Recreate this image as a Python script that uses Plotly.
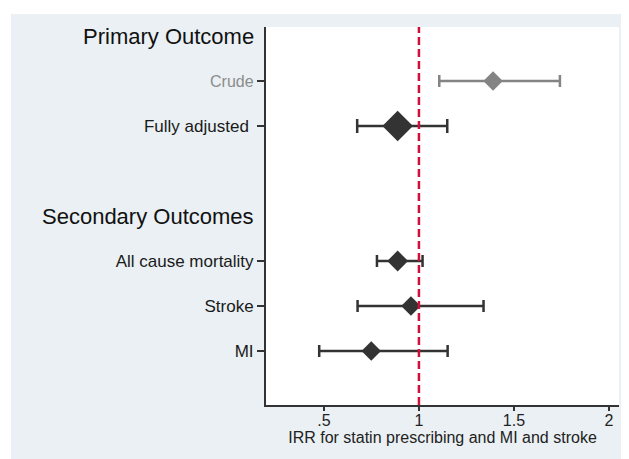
import plotly.graph_objects as go

# ---- data ----
row_labels = ["Primary Outcome", "Crude", "Fully adjusted", "", "Secondary Outcomes",
              "All cause mortality", "Stroke", "MI"]
headings = ["Primary Outcome", "Secondary Outcomes"]
outcomes = ["Crude", "Fully adjusted", "All cause mortality", "Stroke", "MI"]
irr = [1.39, 0.888, 0.888, 0.958, 0.749]
ci_low = [1.107, 0.675, 0.779, 0.677, 0.475]
ci_high = [1.742, 1.149, 1.019, 1.34, 1.151]
x_tickvals = [0.5, 1, 1.5, 2]
x_ticktext = [".5", "1", "1.5", "2"]
x_title = "IRR for statin prescribing and MI and stroke"

# ---- styles ----
n = len(row_labels)
ypos = {lab: n - i for i, lab in enumerate(row_labels)}
marker_size = {"Crude": 15, "Fully adjusted": 23.5, "All cause mortality": 16,
               "Stroke": 15, "MI": 15}
colors = {"Crude": "#848484"}
dark = "#333333"
font = "Arial, 'Liberation Sans', sans-serif"
bg = "#EAF0F3"

W, H = 621, 451
ML, MR, MT, MB = 258, 10, 19, 54
PW, PH = W - ML - MR, H - MT - MB

fig = go.Figure()
for lab, e, lo, hi in zip(outcomes, irr, ci_low, ci_high):
    c = colors.get(lab, dark)
    fig.add_trace(go.Scatter(
        x=[e], y=[ypos[lab]], mode="markers",
        marker=dict(symbol="diamond", size=marker_size[lab], color=c, line=dict(width=0)),
        error_x=dict(type="data", symmetric=False, array=[hi - e], arrayminus=[e - lo],
                     color=c, thickness=2.5, width=6 if lab != "Fully adjusted" else 7),
        showlegend=False, hoverinfo="skip"))

ticktext = []
for lab in outcomes:
    if lab == "Crude":
        ticktext.append("<span style='color:#8c8c8c;font-size:16px'>Crude</span>")
    elif lab == "Fully adjusted":
        ticktext.append("Fully adjusted\u00a0")
    else:
        ticktext.append(lab)

fig.update_layout(
    width=W, height=H,
    margin=dict(l=ML, r=MR, t=MT, b=MB),
    paper_bgcolor=bg, plot_bgcolor="white",
    font=dict(family=font, color="#1a1a1a", size=17),
    xaxis=dict(range=[0.195, 2.053], tickvals=x_tickvals, ticktext=x_ticktext,
               showgrid=False, zeroline=False, showline=True, linecolor=dark, linewidth=2,
               ticks="outside", ticklen=4, tickcolor=dark, tickwidth=1.5,
               ticklabelstandoff=-4,
               tickfont=dict(size=16, color="#222"),
               title=dict(text=x_title, font=dict(size=16, color="#222"), standoff=2)),
    yaxis=dict(range=[-0.2, 8.2], tickvals=[ypos[l] for l in outcomes], ticktext=ticktext,
               showgrid=False, zeroline=False, showline=True, linecolor=dark, linewidth=2,
               ticks="outside", ticklen=7, tickcolor=dark, tickwidth=1.5,
               tickfont=dict(size=17, color="#1a1a1a")),
    shapes=[
        # white page strips (top / left) outside the light background
        dict(type="rect", xref="paper", yref="paper",
             x0=-ML / PW - 0.01, x1=(3 - ML) / PW, y0=-0.2, y1=1.2,
             fillcolor="white", line=dict(width=0), layer="below"),
        dict(type="rect", xref="paper", yref="paper",
             x0=-1, x1=1.2, y0=1 + (MT - 6) / PH, y1=1 + MT / PH + 0.01,
             fillcolor="white", line=dict(width=0), layer="below"),
        dict(type="line", xref="x", yref="paper", x0=1, x1=1, y0=0, y1=1,
             line=dict(color="#D0103A", width=2.5, dash="8px,4px"), layer="above"),
    ],
)

for h in headings:
    fig.add_annotation(x=0, xref="paper", y=ypos[h], yref="y", text=h, showarrow=False,
                       xanchor="right", yanchor="middle", xshift=-10,
                       font=dict(size=22, color="#111", family=font))

fig.write_html("out.html")
